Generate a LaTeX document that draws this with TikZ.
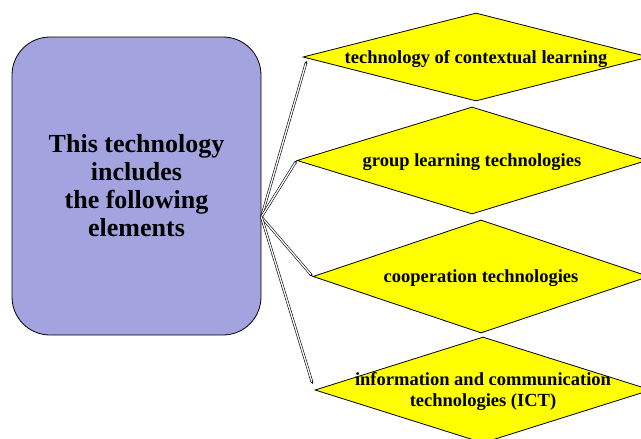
\documentclass[tikz,border=0pt]{standalone}
\usepackage{fontspec}
\setmainfont{Liberation Serif}
\usetikzlibrary{arrows.meta, positioning, shapes.geometric}
\definecolor{lavender}{RGB}{163,163,223}
\definecolor{brightyellow}{RGB}{255,255,0}

\begin{document}
\begin{tikzpicture}[x=1pt, y=-1pt,
    elembox/.style={draw, fill=brightyellow, diamond, inner sep=0pt, line width=0.8pt},
    elemtext/.style={font=\fontsize{18.5}{21}\selectfont\bfseries, align=center, yshift=-2pt},
    link/.style={draw=black, double=white, double distance=1.3pt, line width=0.6pt, -{Stealth[length=3pt, width=3pt]}}]
  \useasboundingbox (0,0) rectangle (641,439);
  \clip (0,0) rectangle (641,439);
  % Left box
  \node[draw, fill=lavender, rounded corners=38pt, line width=0.8pt, minimum width=249pt, minimum height=298pt,
        font=\fontsize{26}{28}\selectfont\bfseries, align=center] (intro) at (136.5,186)
        {This technology\\includes\\the following\\elements};
  \coordinate (hub) at ([yshift=-31pt]intro.east);

  % Elements
  \node[elembox, minimum width=346pt, minimum height=88pt] (context) at (476,57) {};
  \node[elemtext] (contexttext) at (context) {technology of contextual learning};
  \node[elembox, minimum width=350pt, minimum height=107pt] (group) at (472,160.5) {};
  \node[elemtext] (grouptext) at (group) {group learning technologies};
  \node[elembox, minimum width=336pt, minimum height=113pt] (coop) at (481,276.5) {};
  \node[elemtext] (cooptext) at (coop) {cooperation technologies};
  \node[elembox, minimum width=336pt, minimum height=106pt] (ict) at (483,390) {};
  \node[elemtext] (icttext) at (ict) {information and communication\\technologies (ICT)};

  % Connectors
  \draw[link] (hub) -- ([xshift=4pt, yshift=-4pt]context.west);
  \draw[link] (hub) -- (group.west);
  \draw[link] (hub) -- (coop.west);
  \draw[link] (hub) -- ([xshift=-2pt, yshift=6pt]ict.west);
\end{tikzpicture}
\end{document}
